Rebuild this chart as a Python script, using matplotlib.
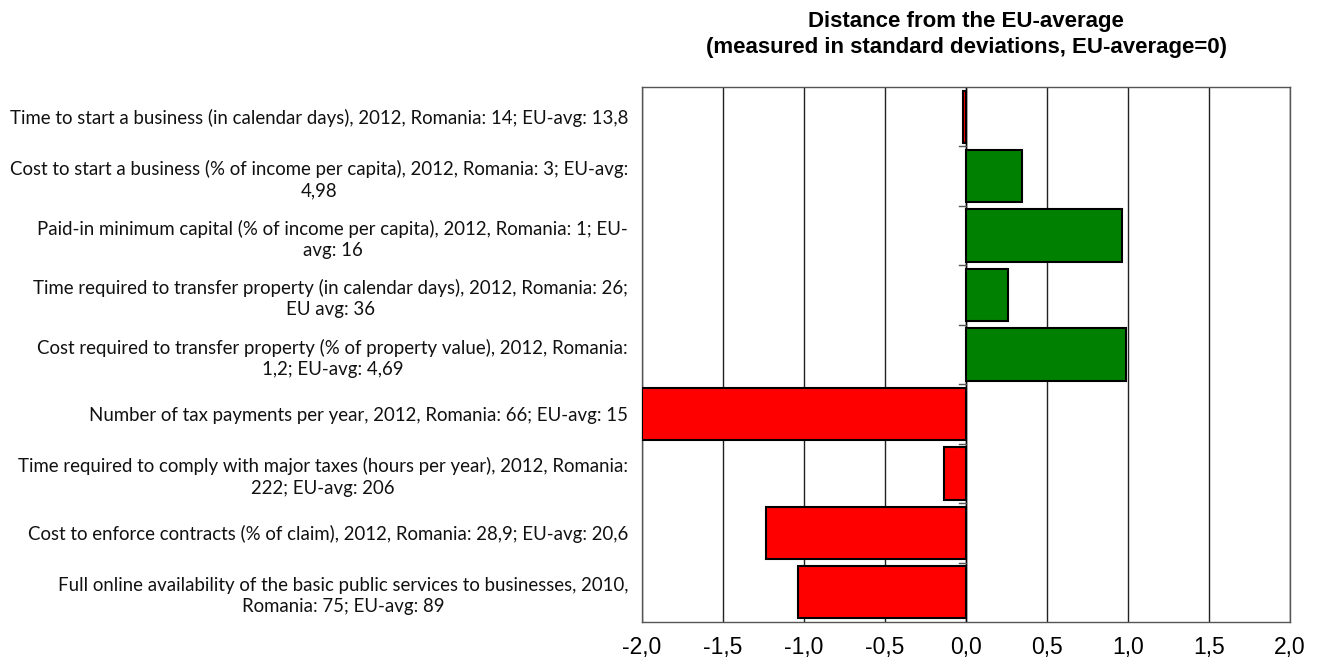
import numpy as np
import matplotlib.pyplot as plt

# Indicators (top to bottom) and distance from EU-average in standard deviations
labels = [
    'Time to start a business (in calendar days), 2012, Romania: 14; EU-avg: 13,8',
    'Cost to start a business (% of income per capita), 2012, Romania: 3; EU-avg:\n4,98',
    'Paid-in minimum capital (% of income per capita), 2012, Romania: 1; EU-\navg: 16',
    'Time required to transfer property (in calendar days), 2012, Romania: 26;\nEU avg: 36',
    'Cost required to transfer property (% of property value), 2012, Romania:\n1,2; EU-avg: 4,69',
    'Number of tax payments per year, 2012, Romania: 66; EU-avg: 15',
    'Time required to comply with major taxes (hours per year), 2012, Romania:\n222; EU-avg: 206',
    'Cost to enforce contracts (% of claim), 2012, Romania: 28,9; EU-avg: 20,6',
    'Full online availability of the basic public services to businesses, 2010,\nRomania: 75; EU-avg: 89',
]
values = [-0.02, 0.345, 0.966, 0.26, 0.987, -2.0, -0.138, -1.236, -1.039]
xticks = [-2.0, -1.5, -1.0, -0.5, 0.0, 0.5, 1.0, 1.5, 2.0]

colors = ['#008000' if v > 0 else '#FF0000' for v in values]
y = np.arange(len(values))

fig = plt.figure(figsize=(13.19, 6.62), dpi=100)
ax = fig.add_axes([0.4867, 0.0604, 0.4913, 0.8082])

ax.barh(y, values, height=0.88, color=colors, edgecolor='black', linewidth=1.5, zorder=3)
ax.axvline(0, color='black', linewidth=1, zorder=2)

# small tick marks between categories on the zero line
for b in np.arange(0.5, len(values) - 0.5, 1):
    ax.plot([-0.04, 0], [b, b], color='#555555', linewidth=1, zorder=2)

ax.set_xlim(-2, 2)
ax.set_ylim(len(values) - 0.5, -0.5)
ax.set_xticks(xticks)
ax.set_xticklabels([f'{t:.1f}'.replace('.', ',') for t in xticks],
                   fontsize=16.5, family='Liberation Sans')
ax.xaxis.grid(True, color='#222222', linewidth=1, zorder=1)
ax.set_axisbelow(True)
ax.tick_params(axis='x', length=0, pad=10)

ax.set_yticks(y)
ax.set_yticklabels(labels, fontsize=13.4, family='Lato', color='#111111', linespacing=1.3)
for t in ax.get_yticklabels():
    t.set_multialignment('center')
ax.tick_params(axis='y', length=0, pad=10)

for s in ax.spines.values():
    s.set_color('#555555')
    s.set_linewidth(1)

fig.text(0.7324, 0.948, 'Distance from the EU-average\n(measured in standard deviations, EU-average=0)',
         ha='center', va='center', fontsize=16, fontweight='bold', family='Liberation Sans',
         linespacing=1.3)

fig.savefig('out.png', dpi=100)
